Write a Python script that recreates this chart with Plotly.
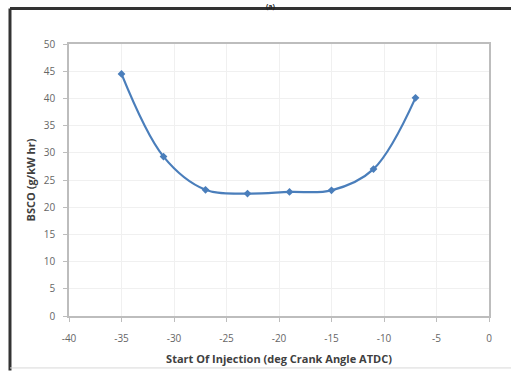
import plotly.graph_objects as go

soi = [-35, -31, -27, -23, -19, -15, -11, -7]
bsco = [44.5, 29.3, 23.2, 22.5, 22.8, 23.1, 27.0, 40.1]
x_ticks = [-40, -35, -30, -25, -20, -15, -10, -5, 0]
x_tick_text = ["-40", "-35", "-30", "-25", "-20", "-15", "-10", "-5", "0"]
y_ticks = [0, 5, 10, 15, 20, 25, 30, 35, 40, 45, 50]
y_tick_text = ["0", "5", "10", "15", "20", "25", "30", "35", "40", "45", "50"]

fig = go.Figure()
fig.add_trace(go.Scatter(
    x=soi, y=bsco, mode="lines+markers",
    line=dict(color="#4a7ebb", width=2.2, shape="spline", smoothing=1.0),
    marker=dict(symbol="diamond", size=6, color="#4a7ebb"),
    showlegend=False,
))

axis_common = dict(
    showline=True, linecolor="#bdbdbd", linewidth=1.5, mirror=True,
    showgrid=True, gridcolor="#f0f0f0", gridwidth=1,
    zeroline=False, ticks="outside", ticklen=4, tickcolor="#bdbdbd",
    tickfont=dict(family="Open Sans, Arial", size=10, color="#666666"),
    automargin=False,
)

fig.update_layout(
    width=511, height=372,
    margin=dict(l=69, r=22, t=44, b=56),
    paper_bgcolor="white", plot_bgcolor="white",
    xaxis=dict(range=[-40, 0], tickvals=x_ticks, ticktext=x_tick_text,
               ticklabelstandoff=8,
               title=dict(text="<b>Start Of Injection (deg Crank Angle ATDC)</b>",
                          font=dict(family="Open Sans, Arial", size=11, color="#404040"),
                          standoff=12),
               **axis_common),
    yaxis=dict(range=[0, 50], tickvals=y_ticks, ticktext=y_tick_text,
               ticklabelstandoff=6,
               title=dict(text="<b>BSCO (g/kW hr)</b>",
                          font=dict(family="Open Sans, Arial", size=11, color="#404040"),
                          standoff=6),
               **axis_common),
    shapes=[
        dict(type="line", xref="paper", yref="paper", x0=-0.1405, x1=1.1, y0=1.1305, y1=1.1305,
             line=dict(color="#333333", width=3)),
        dict(type="line", xref="paper", yref="paper", x0=-0.1405, x1=-0.1405, y0=-0.2, y1=1.1305,
             line=dict(color="#333333", width=3)),
        dict(type="line", xref="paper", yref="paper", x0=-0.1405, x1=1.1, y0=-0.191, y1=-0.191,
             line=dict(color="#d8d8d8", width=1)),
    ],
    annotations=[
        dict(text="<b>(a)</b>", xref="paper", yref="paper", x=0.48, y=1.158,
             showarrow=False, yanchor="top", borderpad=0,
             font=dict(family="Open Sans, Arial", size=7, color="#222222")),
    ],
)

fig.write_html("out.html")
